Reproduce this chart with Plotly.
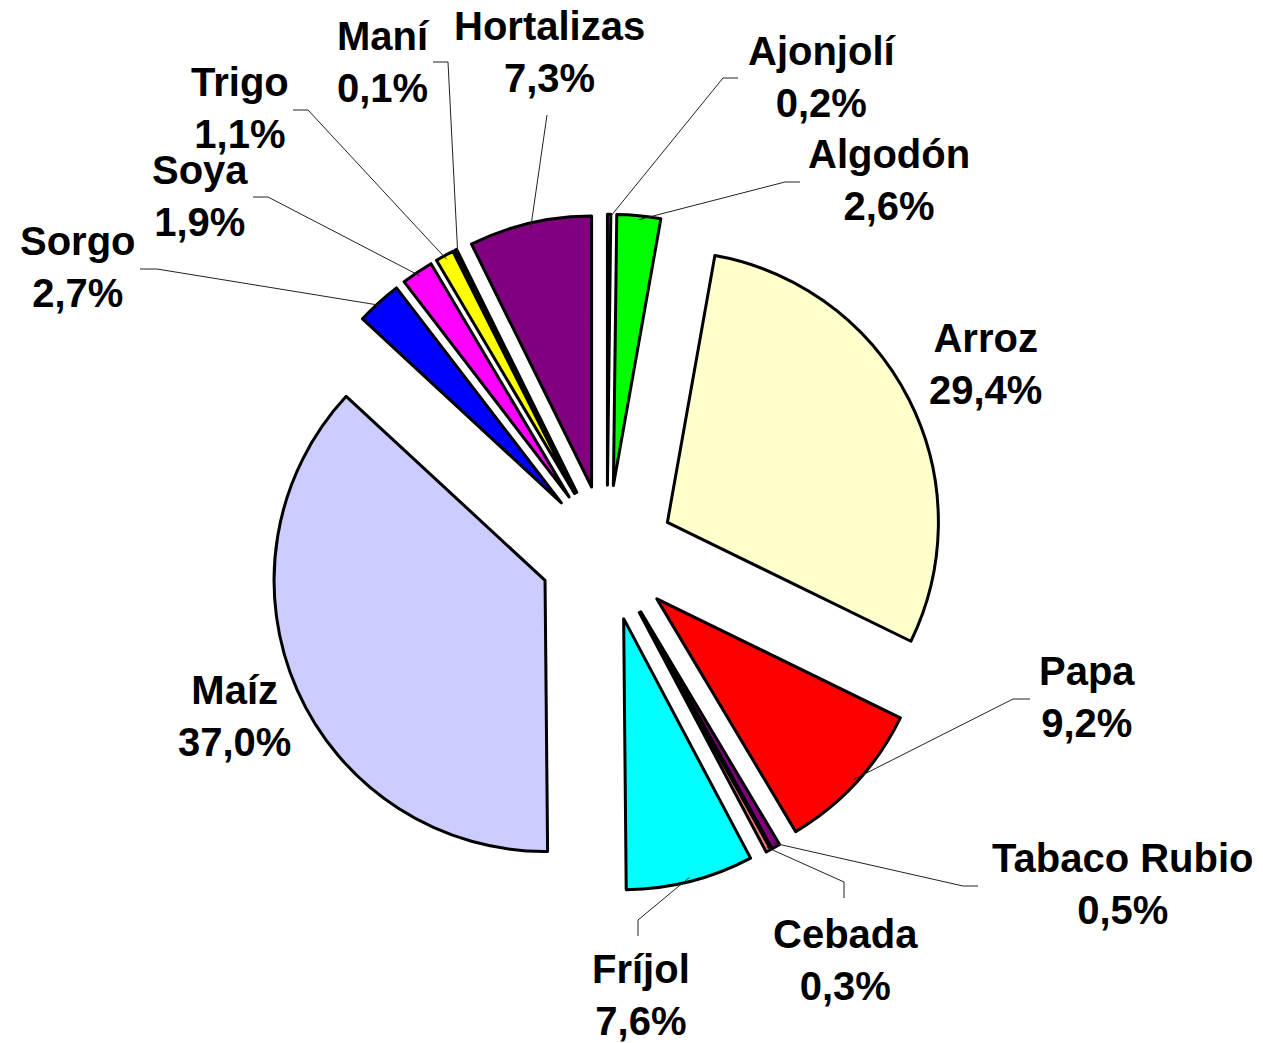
import math
import plotly.graph_objects as go

# slice order, clockwise from 12 o'clock
labels = ['Ajonjolí', 'Algodón', 'Arroz', 'Papa', 'Tabaco Rubio', 'Cebada', 'Fríjol',
          'Maíz', 'Sorgo', 'Soya', 'Trigo', 'Maní', 'Hortalizas']
values = [0.2, 2.6, 29.4, 9.2, 0.5, 0.3, 7.6, 37.0, 2.7, 1.9, 1.1, 0.1, 7.3]
colors = ['#9999FF', '#00FF00', '#FFFFCC', '#FF0000', '#800080', '#FF8080', '#00FFFF',
          '#CCCCFF', '#0000FF', '#FF00FF', '#FFFF00', '#993366', '#800080']

# label placement (pixels): text centre, leader elbow, leader end
label_pos = {
    'Ajonjolí': ((822, 77), (723, 78), (738, 78)),
    'Algodón': ((889, 180), (785, 182), (800, 182)),
    'Arroz': ((985, 364), None, None),
    'Papa': ((1087, 697), (1013, 699), (1030, 699)),
    'Tabaco Rubio': ((1122, 884), (963, 886), (978, 886)),
    'Cebada': ((845, 960), (844, 882), (844, 898)),
    'Fríjol': ((641, 995), (638, 920), (638, 936)),
    'Maíz': ((234, 716), None, None),
    'Sorgo': ((78, 267), (157, 269), (140, 269)),
    'Soya': ((200, 196), (268, 197), (253, 197)),
    'Trigo': ((240, 108), (308, 110), (293, 110)),
    'Maní': ((383, 62), (448, 62), (433, 62)),
    'Hortalizas': ((549, 52), (547, 115), (547, 115)),
}

W, H = 1263, 1043
OFF = 8  # page body margin
cx, cy = 607, 553
r = 271
pull = 0.25
half = r * (1 + pull)


def px(x):
    return (x - OFF) / W


def py(y):
    return 1 - (y - OFF) / H


fig = go.Figure()
fig.add_trace(go.Pie(
    labels=labels, values=values, sort=False, direction='clockwise',
    pull=[pull] * len(values), textinfo='none', hoverinfo='label+percent',
    marker=dict(colors=colors, line=dict(color='black', width=3)),
    domain=dict(x=[px(cx - half), px(cx + half)], y=[py(cy + half), py(cy - half)]),
    showlegend=False))

total = sum(values)
cum = 0
shapes, annotations = [], []
for lab, v in zip(labels, values):
    mid = 2 * math.pi * (cum + v / 2) / total
    cum += v
    pct = f"{100 * v / total:.1f}".replace('.', ',')
    (tx, ty), elbow, end = label_pos[lab]
    annotations.append(dict(
        x=px(tx), y=py(ty), xref='paper', yref='paper', showarrow=False,
        xanchor='center', yanchor='middle',
        text=f"<b>{lab}<br>{pct}%</b>", align='center',
        font=dict(family='Liberation Sans, Arial', size=40, color='black')))
    if elbow is None:
        continue
    sx = cx + (half - 4) * math.sin(mid)
    sy = cy - (half - 4) * math.cos(mid)
    path = f"M {px(sx)},{py(sy)} L {px(elbow[0])},{py(elbow[1])} L {px(end[0])},{py(end[1])}"
    shapes.append(dict(type='path', xref='paper', yref='paper', path=path,
                       line=dict(color='#222222', width=1)))

fig.update_layout(
    width=W, height=H, margin=dict(l=0, r=0, t=0, b=0),
    paper_bgcolor='white', plot_bgcolor='white',
    shapes=shapes, annotations=annotations)

fig.write_html("out.html")
